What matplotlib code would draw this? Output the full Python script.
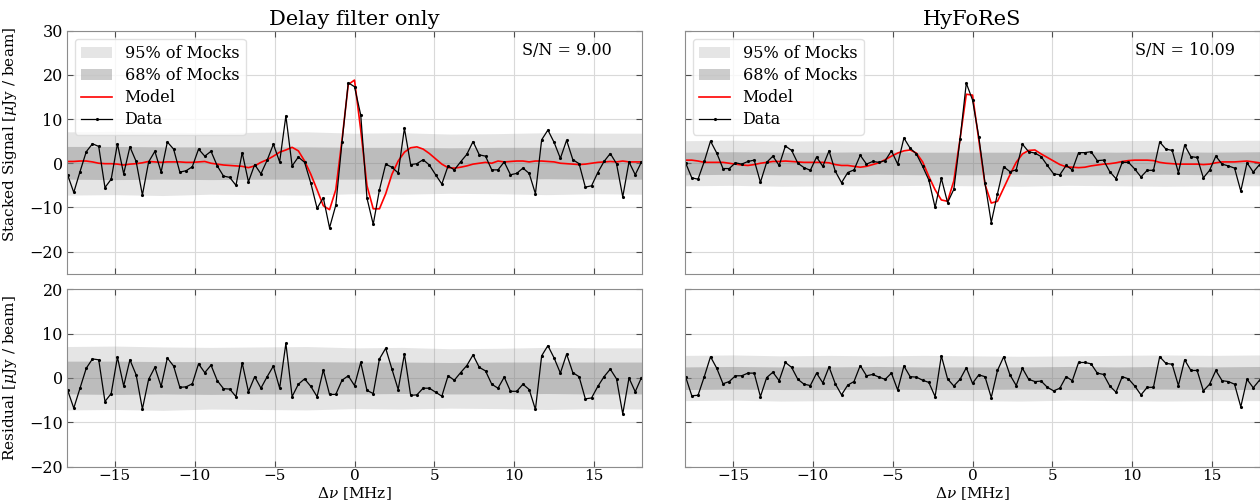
import matplotlib
matplotlib.use("Agg")
import matplotlib.pyplot as plt
import numpy as np

plt.rcParams['font.family'] = 'DejaVu Serif'
plt.rcParams['mathtext.fontset'] = 'dejavuserif'

# channel offsets (CHIME channel width 0.390625 MHz)
chan = np.arange(-46, 47)
freq = chan * 0.390625

# ---- Delay filter only ----
data_df = [-2.6, -6.6, -1.9, 2.6, 4.4, 3.8, -5.5, -3.6, 4.4, -2.4, 3.7, 0.4, -7.2, 0.3, 2.7, -2.0,
           4.8, 3.2, -2.0, -1.7, -0.8, 3.2, 1.6, 2.7, -0.6, -2.9, -3.2, -5.0, 2.4, -4.2, -0.3, -2.4,
           0.7, 4.3, 0.3, 10.7, -0.6, 1.4, 0.2, -4.5, -10.2, -7.8, -14.6, -9.5, 4.8, 18.2, 17.3,
           10.9, -7.9, -13.8, -6.0, -0.2, -0.9, -2.2, 7.9, -0.3, -0.1, 0.8, -0.4, -2.6, -4.7, -0.6,
           -1.5, 0.3, 2.0, 4.9, 1.9, 1.6, -1.5, -1.5, 0.3, -2.6, -2.3, -1.1, -2.3, -6.9, 5.3, 7.5,
           4.7, 1.1, 5.2, 0.8, -0.1, -5.4, -5.1, -2.1, 0.4, 2.2, -0.1, -7.6, 0.3, -2.6, 0.3]
model_df = [0.4, 0.4, 0.5, 0.5, 0.3, 0.0, -0.1, -0.1, -0.2, -0.4, -0.2, -0.1, 0.1, 0.4, 0.3, 0.2,
            0.3, 0.3, 0.3, 0.2, 0.2, 0.3, 0.4, 0.0, -0.2, -0.4, -0.5, -0.6, -0.7, -1.0, -0.6, 0.2,
            0.8, 1.6, 2.5, 3.0, 3.6, 2.8, 0.5, -2.5, -6.0, -9.6, -10.5, -6.0, 5.3, 17.8, 18.8,
            7.5, -5.1, -10.3, -10.3, -6.9, -2.5, 0.5, 2.5, 3.5, 3.7, 3.2, 2.2, 1.0, -0.2, -1.0,
            -1.1, -0.9, -0.6, -0.2, 0.0, 0.2, 0.0, 0.5, 0.3, 0.4, 0.5, 0.5, 0.3, 0.5, 0.5, 0.4,
            0.3, 0.0, -0.1, -0.2, -0.3, -0.2, 0.0, 0.2, 0.3, 0.4, 0.3, 0.5, 0.3, 0.3, 0.3]
resid_df = [-2.7, -6.8, -2.3, 2.2, 4.3, 4.1, -5.3, -3.5, 4.7, -1.8, 4.1, 0.7, -7.0, -0.3, 2.4, -1.9,
            4.5, 2.7, -2.1, -2.0, -1.3, 3.2, 1.2, 2.9, -0.6, -2.4, -2.5, -4.2, 3.4, -3.1, 0.3, -2.3,
            0.3, 2.7, -2.3, 7.8, -4.2, -1.4, -0.2, -1.9, -4.2, 1.8, -3.7, -3.7, -0.5, 0.5, -1.7,
            3.5, -2.8, -3.5, 4.3, 6.7, 2.0, -2.6, 5.4, -3.9, -3.8, -2.3, -2.3, -3.2, -4.1, 0.5,
            -0.5, 1.2, 2.8, 5.2, 2.4, 1.6, -1.4, -2.3, 0.2, -3.0, -3.0, -1.4, -2.6, -7.1, 5.0, 7.3,
            4.5, 1.1, 5.4, 1.2, 0.3, -4.7, -4.5, -1.9, 0.3, 2.0, -0.2, -8.1, 0.0, -3.1, 0.1]

# ---- HyFoReS ----
data_hy = [0.1, -3.3, -3.6, 0.4, 5.0, 2.3, -1.2, -1.2, 0.1, -0.2, 0.4, 0.7, -4.3, 0.2, 1.6, -0.5,
           3.9, 2.9, 0.0, -1.0, -1.6, 1.4, -0.7, 2.8, -1.8, -4.4, -2.1, -1.5, 1.8, -0.2, 0.4, 0.2,
           0.6, 2.8, -0.2, 5.7, 3.4, 2.1, -0.7, -3.8, -10.0, -3.4, -8.9, -5.9, 5.4, 18.1, 14.3,
           6.0, -4.5, -13.4, -6.9, -0.8, -1.9, -1.5, 4.3, 2.6, 2.3, 1.5, -0.5, -2.4, -2.6, -0.5,
           -1.5, 2.4, 2.4, 2.6, 0.6, 0.7, -1.9, -3.5, 0.2, 0.2, -1.3, -3.1, -1.6, -1.6, 4.8, 3.2,
           2.9, -2.1, 4.1, 1.5, 1.3, -3.3, -1.6, 1.6, -0.2, -0.6, -1.1, -6.3, 0.1, -2.0, -0.3]
model_hy = [0.7, 0.7, 0.5, 0.2, 0.2, 0.2, 0.2, 0.0, -0.2, -0.4, -0.5, -0.3, 0.0, 0.2, 0.4, 0.4,
            0.5, 0.4, 0.3, 0.2, 0.2, 0.2, 0.2, 0.1, -0.3, -0.5, -0.5, -0.7, -0.9, -0.7, -0.3, 0.1,
            0.8, 1.6, 2.3, 2.8, 3.0, 2.3, 0.3, -3.0, -6.0, -8.3, -8.6, -4.0, 5.5, 15.6, 15.4,
            5.3, -4.8, -9.0, -8.6, -5.6, -2.6, 0.2, 2.1, 2.9, 3.0, 2.1, 1.3, 0.5, -0.3, -0.8,
            -0.9, -1.0, -0.9, -0.6, -0.4, -0.2, -0.1, 0.1, 0.4, 0.6, 0.7, 0.7, 0.7, 0.6, 0.2, 0.0,
            -0.1, -0.2, -0.2, -0.2, -0.2, -0.3, -0.2, 0.1, 0.3, 0.3, 0.3, 0.4, 0.5, 0.3, 0.1]
resid_hy = [0.3, -4.0, -3.9, 0.3, 4.8, 2.2, -1.3, -0.8, 0.5, 0.5, 1.1, 1.1, -4.2, 0.1, 1.3, -0.6,
            3.5, 2.4, -0.3, -1.4, -1.7, 1.1, -1.1, 2.5, -1.3, -3.8, -1.6, -0.8, 2.8, 0.5, 0.8, 0.2,
            -0.3, 1.1, -2.7, 2.7, 0.3, 0.2, -0.5, -1.0, -4.2, 5.0, -0.2, -1.8, -0.3, 2.3, -1.2,
            0.7, 0.3, -4.4, 1.7, 4.8, 0.7, -1.7, 2.2, -0.3, -0.8, -0.7, -2.1, -2.9, -2.3, 0.3,
            -0.6, 3.5, 3.5, 3.2, 1.1, 0.8, -1.8, -3.2, 0.3, -0.2, -1.8, -3.8, -2.1, -2.1, 4.8, 3.3,
            3.1, -1.7, 4.1, 1.7, 1.7, -2.9, -1.4, 1.7, -0.6, -0.8, -1.4, -6.5, -0.3, -2.2, -0.5]

# mock bands, read every 3 MHz
band_freq = [-18, -15, -12, -9, -6, -3, 0, 3, 6, 9, 12, 15, 18]
df_hi95 = [7.1, 7.2, 7.0, 6.9, 7.0, 7.1, 6.8, 6.9, 6.6, 6.7, 6.9, 6.8, 6.8]
df_lo95 = [-7.2, -7.1, -7.3, -7.0, -7.1, -7.2, -6.9, -7.0, -6.8, -6.9, -7.1, -6.9, -7.0]
df_hi68 = [3.8, 3.8, 3.7, 3.7, 3.7, 3.7, 3.6, 3.6, 3.5, 3.6, 3.6, 3.6, 3.6]
df_lo68 = [-3.6, -3.7, -3.6, -3.7, -3.6, -3.6, -3.6, -3.5, -3.6, -3.6, -3.5, -3.6, -3.6]
hy_hi95 = [5.1, 5.2, 5.0, 5.1, 5.0, 5.1, 5.0, 4.9, 5.0, 5.1, 5.2, 5.1, 5.2]
hy_lo95 = [-5.1, -5.0, -5.2, -5.1, -5.1, -5.0, -5.1, -5.2, -5.0, -5.1, -5.2, -5.1, -5.1]
hy_hi68 = [2.5, 2.6, 2.5, 2.5, 2.6, 2.5, 2.5, 2.5, 2.6, 2.5, 2.6, 2.5, 2.6]
hy_lo68 = [-2.6, -2.5, -2.6, -2.6, -2.5, -2.6, -2.6, -2.5, -2.6, -2.6, -2.5, -2.6, -2.6]

titles = ['Delay filter only', 'HyFoReS']
snr = ['S/N = 9.00', 'S/N = 10.09']

fig = plt.figure(figsize=(12.6, 5.04), dpi=100)

def style(ax):
    ax.set_xlim(-18, 18)
    ax.grid(True, color='0.85', lw=0.8)
    ax.set_axisbelow(True)
    ax.tick_params(direction='in', top=True, right=True, labelsize=11.5,
                   length=4, color='0.3', pad=3)
    ax.tick_params(axis='x', labelsize=11, pad=2)
    for s in ax.spines.values():
        s.set_color('0.55')

def bands(ax, hi95, lo95, hi68, lo68):
    ax.fill_between(band_freq, lo95, hi95, color='gray', alpha=0.2, lw=0,
                    label='95% of Mocks')
    ax.fill_between(band_freq, lo68, hi68, color='gray', alpha=0.4, lw=0,
                    label='68% of Mocks')

sets = [(data_df, model_df, resid_df, df_hi95, df_lo95, df_hi68, df_lo68),
        (data_hy, model_hy, resid_hy, hy_hi95, hy_lo95, hy_hi68, hy_lo68)]
lefts = [0.0532, 0.5437]

for j in range(2):
    d, m, r, h95, l95, h68, l68 = sets[j]
    ax = fig.add_axes([lefts[j], 0.4567, 0.4563, 0.4827])
    style(ax)
    bands(ax, h95, l95, h68, l68)
    ax.plot(freq, m, color='red', lw=1.2, label='Model')
    ax.plot(freq, d, color='black', lw=0.9, marker='.', ms=2.5, label='Data')
    ax.set_ylim(-25, 30)
    ax.set_title(titles[j], fontsize=15, pad=4)
    ax.text(0.87, 0.92, snr[j], transform=ax.transAxes, ha='center', va='center',
            fontsize=11.5)
    ax.legend(loc='upper left', handlelength=1.9, framealpha=0.8,
              edgecolor='0.85', borderaxespad=0.5, labelspacing=0.32,
              prop={'family': 'DejaVu Serif', 'size': 11.5})
    ax.set_xticklabels([])
    if j == 0:
        ax.set_ylabel(r'Stacked Signal [$\mu$Jy / beam]', fontsize=11)
        ax.yaxis.set_label_coords(-0.083, 0.575)
    else:
        ax.set_yticklabels([])

    ax2 = fig.add_axes([lefts[j], 0.0740, 0.4563, 0.3520])
    style(ax2)
    bands(ax2, h95, l95, h68, l68)
    ax2.plot(freq, r, color='black', lw=0.9, marker='.', ms=2.5)
    ax2.set_ylim(-20, 20)
    ax2.set_xlabel(r'$\Delta\nu$ [MHz]', fontsize=11, labelpad=1)
    if j == 0:
        ax2.set_ylabel(r'Residual [$\mu$Jy / beam]', fontsize=11)
        ax2.yaxis.set_label_coords(-0.083, 0.5)
    else:
        ax2.set_yticklabels([])

fig.savefig('out.png', dpi=100)
